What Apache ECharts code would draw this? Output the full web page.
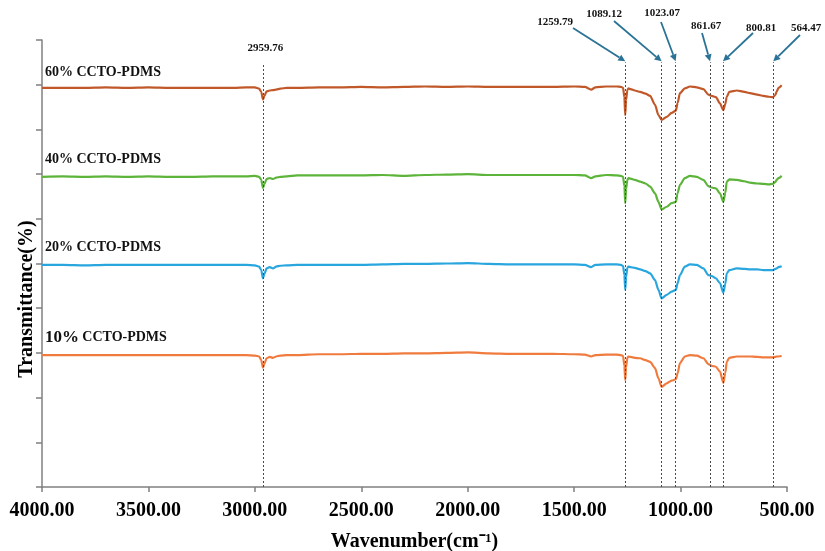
<!DOCTYPE html>
<html>
<head>
<meta charset="utf-8">
<script src="https://cdn.jsdelivr.net/npm/echarts@6/dist/echarts.min.js"></script>
<style>
  html, body { margin: 0; padding: 0; background: #ffffff; }
  #chart { width: 825px; height: 551px; }
</style>
</head>
<body>
<div id="chart"></div>
<script>
// FTIR spectra of CCTO-PDMS composites (offset traces)
const wavenumbers = [
  4000, 3900, 3800, 3700, 3600, 3500, 3400, 3300, 3200, 3100, 3040, 3000,
  2980, 2970, 2962, 2955, 2945, 2930, 2915, 2900, 2880, 2850, 2800, 2700,
  2600, 2500, 2400, 2300, 2200, 2100, 2000, 1900, 1800, 1700, 1600, 1500,
  1450, 1420, 1400, 1350, 1300, 1280, 1270, 1264, 1260, 1256, 1250, 1245,
  1235, 1215, 1190, 1165, 1143, 1120, 1104, 1089, 1065, 1042, 1022, 1014,
  1003, 980, 956, 924, 893, 869, 854, 834, 815, 799, 790, 783,
  771, 736, 700, 674, 640, 611, 585, 567, 555, 549, 540, 525
];

const trans60 = [
  8.93, 8.93, 8.93, 8.94, 8.93, 8.94, 8.93, 8.93, 8.93, 8.93, 8.94, 8.94,
  8.91, 8.84, 8.67, 8.75, 8.85, 8.87, 8.88, 8.89, 8.91, 8.93, 8.93, 8.94,
  8.94, 8.95, 8.94, 8.95, 8.96, 8.95, 8.96, 8.95, 8.95, 8.95, 8.95, 8.96,
  8.95, 8.89, 8.94, 8.96, 8.96, 8.95, 8.93, 8.72, 8.32, 8.66, 8.88, 8.92,
  8.90, 8.87, 8.84, 8.80, 8.75, 8.55, 8.32, 8.21, 8.28, 8.37, 8.42, 8.59,
  8.81, 8.92, 8.96, 8.94, 8.90, 8.78, 8.75, 8.72, 8.58, 8.43, 8.57, 8.73,
  8.84, 8.87, 8.84, 8.81, 8.78, 8.75, 8.73, 8.72, 8.77, 8.84, 8.93, 8.99
];

const trans40 = [
  6.94, 6.95, 6.94, 6.95, 6.94, 6.95, 6.94, 6.94, 6.95, 6.95, 6.95, 6.96,
  6.94, 6.87, 6.69, 6.78, 6.89, 6.91, 6.89, 6.92, 6.94, 6.95, 6.97, 6.97,
  6.97, 6.97, 6.98, 6.96, 6.98, 6.99, 7.00, 6.98, 6.98, 6.98, 6.98, 6.98,
  6.97, 6.91, 6.95, 6.98, 6.97, 6.96, 6.94, 6.73, 6.35, 6.67, 6.87, 6.91,
  6.90, 6.87, 6.83, 6.79, 6.72, 6.57, 6.38, 6.21, 6.27, 6.35, 6.38, 6.57,
  6.76, 6.91, 6.96, 6.94, 6.87, 6.73, 6.70, 6.68, 6.57, 6.38, 6.58, 6.83,
  6.88, 6.87, 6.84, 6.81, 6.79, 6.78, 6.77, 6.78, 6.82, 6.87, 6.91, 6.96
];

const trans20 = [
  4.97, 4.97, 4.96, 4.97, 4.97, 4.97, 4.97, 4.97, 4.97, 4.97, 4.97, 4.96,
  4.93, 4.85, 4.67, 4.77, 4.89, 4.92, 4.89, 4.93, 4.95, 4.96, 4.97, 4.97,
  4.97, 4.97, 4.98, 4.99, 4.99, 5.00, 5.01, 4.99, 4.98, 4.98, 4.98, 4.98,
  4.97, 4.92, 4.97, 4.98, 4.98, 4.97, 4.94, 4.74, 4.41, 4.70, 4.90, 4.93,
  4.92, 4.90, 4.87, 4.83, 4.78, 4.63, 4.41, 4.22, 4.30, 4.37, 4.41, 4.56,
  4.74, 4.93, 4.98, 4.97, 4.89, 4.74, 4.72, 4.67, 4.56, 4.35, 4.54, 4.78,
  4.85, 4.89, 4.88, 4.87, 4.87, 4.85, 4.85, 4.85, 4.88, 4.89, 4.92, 4.94
];

const trans10 = [
  2.95, 2.95, 2.95, 2.95, 2.95, 2.95, 2.95, 2.95, 2.95, 2.95, 2.95, 2.94,
  2.92, 2.84, 2.67, 2.76, 2.88, 2.91, 2.89, 2.92, 2.94, 2.95, 2.95, 2.97,
  2.97, 2.98, 2.98, 2.99, 2.99, 3.00, 3.01, 2.99, 2.98, 2.98, 2.98, 2.97,
  2.96, 2.92, 2.95, 2.96, 2.96, 2.95, 2.93, 2.71, 2.39, 2.68, 2.89, 2.92,
  2.91, 2.89, 2.88, 2.84, 2.80, 2.66, 2.43, 2.24, 2.32, 2.38, 2.41, 2.54,
  2.77, 2.92, 2.95, 2.94, 2.88, 2.75, 2.71, 2.69, 2.58, 2.33, 2.55, 2.80,
  2.89, 2.92, 2.92, 2.92, 2.91, 2.90, 2.90, 2.90, 2.91, 2.92, 2.92, 2.93
];

const sampleNames = ['60% CCTO-PDMS', '40% CCTO-PDMS', '20% CCTO-PDMS', '10% CCTO-PDMS'];
const sampleColors = ['#c0582a', '#5db43a', '#29a6de', '#f07b3f'];

// Assigned absorption bands (cm-1)
const peakWavenumbers = [2959.76, 1259.79, 1089.12, 1023.07, 861.67, 800.81, 564.47];
const peakLabels = ['2959.76', '1259.79', '1089.12', '1023.07', '861.67', '800.81', '564.47'];
// upper end of each guide line, in transmittance units
const peakLineTop = [9.44, 9.5, 9.5, 9.5, 9.5, 9.5, 9.5];

// X axis range and tick spacing
const xMin = 500, xMax = 4000, xStep = 500;

const traces = [trans60, trans40, trans20, trans10];

const chart = echarts.init(document.getElementById('chart'), null, { renderer: 'canvas' });

const serif = '"Liberation Serif", "Times New Roman", serif';

const series = traces.map((vals, k) => ({
  name: sampleNames[k],
  type: 'line',
  data: wavenumbers.map((w, i) => [w, vals[i]]),
  showSymbol: false,
  smooth: 0.25,
  smoothMonotone: 'x',
  lineStyle: { color: sampleColors[k], width: 2.2 },
  itemStyle: { color: sampleColors[k] },
  animation: false,
  z: 2
}));

// dotted guide lines at the assigned bands
series[3].markLine = {
  silent: true,
  symbol: ['none', 'none'],
  animation: false,
  label: { show: false },
  lineStyle: { type: [2, 2], color: '#4a4a4a', width: 1 },
  data: peakWavenumbers.map((w, i) => [{ coord: [w, 0] }, { coord: [w, peakLineTop[i]] }]),
  z: 5
};

chart.setOption({
  backgroundColor: '#ffffff',
  animation: false,
  grid: { left: 42, right: 38, top: 40, bottom: 64, containLabel: false, outerBoundsMode: 'none' },
  xAxis: {
    type: 'value',
    min: xMin, max: xMax, interval: xStep,
    inverse: true,
    name: 'Wavenumber(cm\u207B\u00B9)',
    nameLocation: 'middle',
    nameGap: 45,
    nameTextStyle: { fontFamily: serif, fontWeight: 'bold', fontSize: 20, color: '#000' },
    axisLine: { show: true, lineStyle: { color: '#808080', width: 1.5 } },
    axisTick: { show: true, inside: false, length: 5, lineStyle: { color: '#808080', width: 1.5 } },
    axisLabel: {
      margin: 14,
      fontFamily: serif, fontWeight: 'bold', fontSize: 20, color: '#000',
      formatter: v => v.toFixed(2)
    },
    splitLine: { show: false }
  },
  yAxis: {
    type: 'value',
    min: 0, max: 10, interval: 1,
    axisLine: { show: true, lineStyle: { color: '#808080', width: 1.5 } },
    axisTick: { show: true, inside: false, length: 6, lineStyle: { color: '#808080', width: 1.5 } },
    axisLabel: { show: false },
    splitLine: { show: false }
  },
  series: series
});

// Annotation layer: sample names, axis title, peak labels and arrows
const arrowColor = '#2b7396';
// label centre and arrow tail for each band except the first (pixel layout)
const calloutLayout = [
  null,
  { label: [555, 22], tail: [573, 28] },
  { label: [604, 14], tail: [614, 21] },
  { label: [662, 13], tail: [661, 22] },
  { label: [706, 26], tail: [702, 33] },
  { label: [761, 28], tail: [753, 33] },
  { label: [806, 28], tail: [800, 35] }
];

const graphics = [];

// y axis title
graphics.push({
  type: 'text',
  x: 27, y: 299,
  rotation: Math.PI / 2,
  style: {
    text: 'Transmittance(%)',
    font: 'bold 20px ' + serif,
    fill: '#000',
    align: 'center',
    verticalAlign: 'middle'
  }
});

// sample names above each trace
const nameLift = [15, 17, 17, 18];
traces.forEach((vals, k) => {
  const p = chart.convertToPixel({ gridIndex: 0 }, [wavenumbers[0], vals[0]]);
  const isTen = k === 3;
  graphics.push({
    type: 'text',
    x: p[0] + 3,
    y: p[1] - nameLift[k],
    style: isTen ? {
      text: '{a|10%} {b|CCTO-PDMS}',
      rich: {
        a: { font: 'bold 17px ' + serif, fill: '#111' },
        b: { font: 'bold 14px ' + serif, fill: '#111' }
      },
      align: 'left',
      verticalAlign: 'middle'
    } : {
      text: sampleNames[k],
      font: 'bold 14px ' + serif,
      fill: '#111',
      align: 'left',
      verticalAlign: 'middle'
    }
  });
});

peakWavenumbers.forEach((w, i) => {
  const tip = chart.convertToPixel({ gridIndex: 0 }, [w, peakLineTop[i]]);
  if (i === 0) {
    graphics.push({
      type: 'text', x: tip[0] + 2, y: tip[1] - 17,
      style: { text: peakLabels[i], font: 'bold 11px ' + serif, fill: '#111', align: 'center', verticalAlign: 'middle' }
    });
    return;
  }
  const lay = calloutLayout[i];
  const end = [tip[0], tip[1] - 1];
  const dx = end[0] - lay.tail[0], dy = end[1] - lay.tail[1];
  const len = Math.sqrt(dx * dx + dy * dy);
  const ux = dx / len, uy = dy / len;
  const headLen = 7, headHalf = 3.5;
  const base = [end[0] - ux * headLen, end[1] - uy * headLen];
  graphics.push({
    type: 'line',
    shape: { x1: lay.tail[0], y1: lay.tail[1], x2: base[0], y2: base[1] },
    style: { stroke: arrowColor, lineWidth: 1.8 }
  });
  graphics.push({
    type: 'polygon',
    shape: { points: [end, [base[0] - uy * headHalf, base[1] + ux * headHalf], [base[0] + uy * headHalf, base[1] - ux * headHalf]] },
    style: { fill: arrowColor }
  });
  graphics.push({
    type: 'text', x: lay.label[0], y: lay.label[1],
    style: { text: peakLabels[i], font: 'bold 11px ' + serif, fill: '#111', align: 'center', verticalAlign: 'middle' }
  });
});

chart.setOption({ graphic: graphics });
</script>
</body>
</html>
